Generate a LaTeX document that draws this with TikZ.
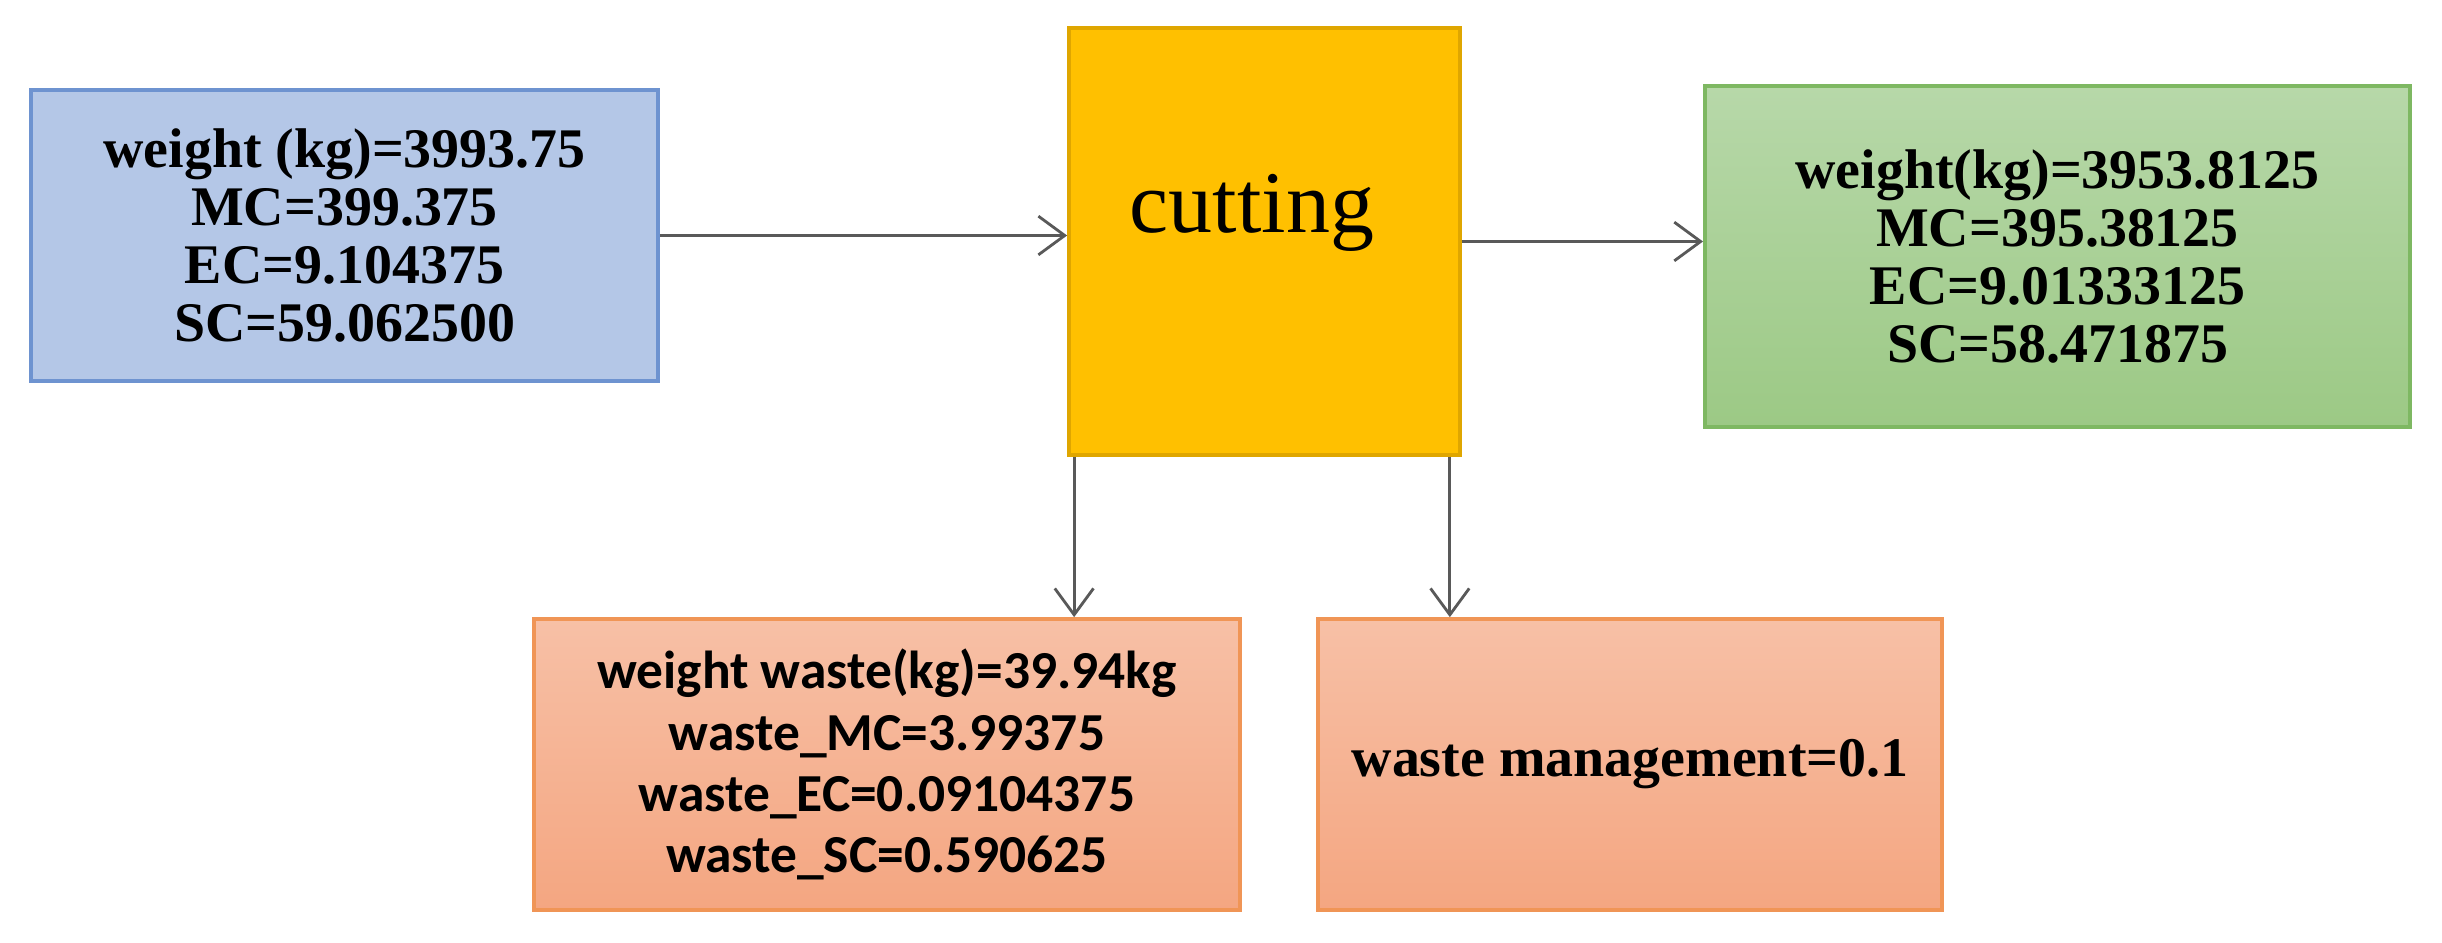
\documentclass[tikz,border=0pt]{standalone}
\usepackage{fontspec}
\setmainfont{Liberation Serif}
\newfontfamily\carlito{Carlito}
\usetikzlibrary{arrows.meta,shadings}
\definecolor{bluefill}{HTML}{B4C7E7}
\definecolor{blueline}{HTML}{6E93D0}
\definecolor{yelfill}{HTML}{FFC000}
\definecolor{yelline}{HTML}{DFA600}
\definecolor{greentop}{HTML}{B7D8A9}
\definecolor{greenbot}{HTML}{9CC985}
\definecolor{greenline}{HTML}{7EB862}
\definecolor{orgtop}{HTML}{F7C0A6}
\definecolor{orgbot}{HTML}{F4A681}
\definecolor{orgline}{HTML}{F09556}
\definecolor{arrgray}{HTML}{595959}
\begin{document}
\begin{tikzpicture}[x=0.01cm,y=-0.01cm,
  box/.style={draw, line width=1pt, rectangle, inner sep=0pt, align=center},
  valfont/.style={font=\fontsize{15.9}{16.5}\selectfont\bfseries},
  wastefont/.style={font=\carlito\fontsize{15.2}{17.4}\selectfont\bfseries},
  bluebox/.style={box, draw=blueline, fill=bluefill},
  yelbox/.style={box, draw=yelline, fill=yelfill},
  greenbox/.style={box, draw=greenline, top color=greentop, bottom color=greenbot},
  orgbox/.style={box, draw=orgline, top color=orgtop, bottom color=orgbot},
  arr/.style={draw=arrgray, line width=0.8pt, -{Straight Barb[length=7.5pt,width=11pt,line width=0.8pt]}}]
\useasboundingbox (0,0) rectangle (2442,942);
\fill[white] (0,0) rectangle (2442,942);

\node[bluebox, valfont, minimum width=6.27cm, minimum height=2.91cm] (input) at (344.5,235.5)
  {weight (kg)=3993.75\\MC=399.375\\EC=9.104375\\SC=59.062500};
\node[yelbox, minimum width=3.91cm, minimum height=4.27cm] (cut) at (1264.5,241.5) {};
\node[font=\fontsize{25}{28}\selectfont, anchor=base, inner sep=0pt] (cutlabel) at (1252,232) {cutting};
\node[greenbox, valfont, minimum width=7.05cm, minimum height=3.41cm] (output) at (2057.5,256.5)
  {weight(kg)=3953.8125\\MC=395.38125\\EC=9.01333125\\SC=58.471875};
\node[orgbox, wastefont, minimum width=7.06cm, minimum height=2.91cm] (waste) at (887,764.5)
  {weight waste(kg)=39.94kg\\waste\_MC=3.99375\\waste\_EC=0.09104375\\waste\_SC=0.590625};
\node[orgbox, valfont, minimum width=6.24cm, minimum height=2.91cm] (manage) at (1630,764.5)
  {waste management=0.1};

\coordinate (c1) at ([xshift=0.07cm]cut.south west);
\coordinate (c2) at ([xshift=-0.12cm]cut.south east);

\draw[arr] (input.east) -- (input.east -| cut.west);
\draw[arr] (cut.east) -- (cut.east -| output.west);
\draw[arr] (c1) -- (c1 |- waste.north);
\draw[arr] (c2) -- (c2 |- manage.north);
\end{tikzpicture}
\end{document}
